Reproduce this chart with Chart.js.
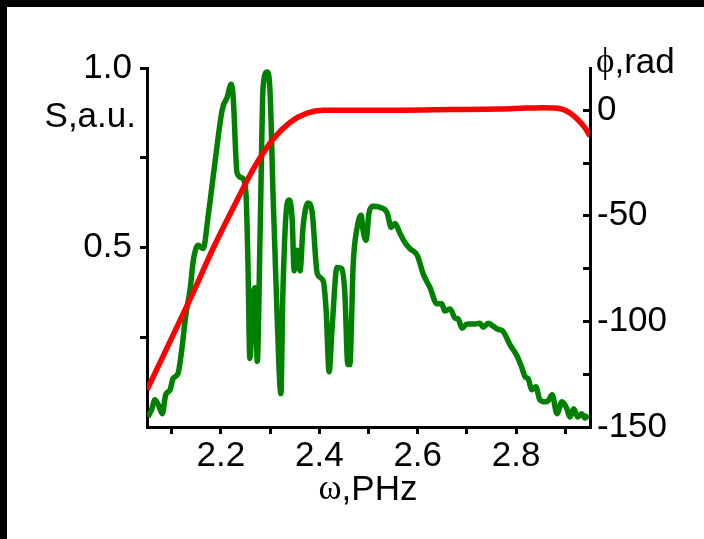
<!DOCTYPE html>
<html>
<head>
<meta charset="utf-8">
<script src="https://cdn.jsdelivr.net/npm/chart.js@4"></script>
<style>
  html, body { margin: 0; padding: 0; background: #fff; }
  #wrap { position: relative; width: 704px; height: 539px; }
  canvas { display: block; }
</style>
</head>
<body>
<div id="wrap"><canvas id="spectrum-chart" width="704" height="539"></canvas></div>
<script>
//! spectrum S (a.u.) against frequency omega (PHz)
const omegaS = [2.052, 2.060, 2.066, 2.073, 2.081, 2.088, 2.097, 2.103, 2.113, 2.121, 2.128, 2.138,
  2.144, 2.154, 2.164, 2.175, 2.188, 2.203, 2.213, 2.221, 2.225, 2.233, 2.243, 2.251, 2.255, 2.259,
  2.266, 2.270, 2.274, 2.280, 2.286, 2.294, 2.300, 2.306, 2.314, 2.322, 2.326, 2.335, 2.339, 2.345,
  2.349, 2.355, 2.361, 2.367, 2.377, 2.385, 2.396, 2.408, 2.414, 2.420, 2.426, 2.436, 2.446, 2.452,
  2.458, 2.462, 2.469, 2.477, 2.485, 2.489, 2.495, 2.501, 2.509, 2.523, 2.538, 2.546, 2.554, 2.564,
  2.574, 2.584, 2.599, 2.611, 2.625, 2.639, 2.649, 2.655, 2.666, 2.676, 2.682, 2.690, 2.700, 2.716,
  2.726, 2.733, 2.743, 2.753, 2.763, 2.773, 2.787, 2.802, 2.812, 2.818, 2.824, 2.832, 2.840, 2.848,
  2.859, 2.865, 2.873, 2.883, 2.893, 2.903, 2.909, 2.917, 2.925, 2.933, 2.940, 2.946]
const intensity = [0.028, 0.051, 0.076, 0.062, 0.037, 0.090, 0.104, 0.135, 0.149, 0.219, 0.303, 0.388,
  0.463, 0.506, 0.497, 0.596, 0.736, 0.885, 0.919, 0.955, 0.921, 0.708, 0.694, 0.652, 0.463, 0.191,
  0.371, 0.388, 0.183, 0.556, 0.949, 0.989, 0.933, 0.652, 0.323, 0.093, 0.371, 0.624, 0.632, 0.576,
  0.435, 0.492, 0.435, 0.556, 0.624, 0.604, 0.427, 0.407, 0.323, 0.154, 0.275, 0.444, 0.441, 0.371,
  0.174, 0.174, 0.455, 0.556, 0.590, 0.548, 0.520, 0.596, 0.615, 0.612, 0.596, 0.556, 0.567, 0.539,
  0.514, 0.497, 0.478, 0.427, 0.388, 0.343, 0.343, 0.323, 0.329, 0.303, 0.301, 0.275, 0.287, 0.287,
  0.289, 0.278, 0.289, 0.281, 0.272, 0.267, 0.230, 0.197, 0.163, 0.140, 0.135, 0.104, 0.112, 0.076,
  0.070, 0.073, 0.090, 0.037, 0.070, 0.051, 0.028, 0.051, 0.028, 0.037, 0.025, 0.034]

//! spectral phase phi (rad)
const omegaPhi = [2.050, 2.138, 2.188, 2.239, 2.259, 2.274, 2.306, 2.341, 2.375, 2.408, 2.479, 2.564,
  2.666, 2.767, 2.820, 2.855, 2.878, 2.895, 2.910, 2.925, 2.940, 2.950]
const phase = [-132.4, -89.2, -63.6, -39.8, -30.8, -24.6, -13.7, -5.7, -1.4, 0, 0, 0,
  0.3, 0.6, 1.0, 1.2, 1.1, 0.4, -1.4, -4.4, -8.4, -12.3]

//! ticks and which of them carry a label
const omegaTicks = [2.1, 2.2, 2.3, 2.4, 2.5, 2.6, 2.7, 2.8, 2.9]
const omegaLabels = [2.2, 2.4, 2.6, 2.8]
const sTicks = [0.25, 0.5, 0.75, 1.0]
const sLabels = [0.5, 1.0]
const phiTicks = [0, -25, -50, -75, -100, -125, -150]
const phiLabels = [0, -50, -100, -150]

const FONT = 'Liberation Sans, Arial, sans-serif'
const SERIF = 'Liberation Serif, DejaVu Serif, serif'

function toPoints(xs, ys){
  return xs.map((x, i) => ({x, y: ys[i]}))
}

function fixedTicks(values){
  return function(scale){
    scale.ticks = values.map(value => ({value}))
  }
}

function labelIf(list, digits){
  return function(value){
    const v = +value.toFixed(3)
    return list.some(l => Math.abs(l - v) < 1e-6) ? v.toFixed(digits) : ''
  }
}

//! black frame round the figure and the axis titles as plain text
const decorations = {
  id: 'decorations',
  afterDraw(chart){
    const ctx = chart.ctx
    ctx.save()
    ctx.fillStyle = '#000'
    ctx.fillRect(0, 0, chart.width, 7)
    ctx.fillRect(0, 0, 7, chart.height)

    ctx.fillStyle = '#000'
    ctx.textBaseline = 'middle'

    // S,a.u.
    ctx.font = `35px ${FONT}`
    ctx.textAlign = 'right'
    ctx.fillText('S,a.u.', 136, 117)

    // phi,rad
    ctx.textAlign = 'left'
    ctx.font = `35px ${SERIF}`
    ctx.fillText('ϕ', 596, 63)
    let w = ctx.measureText('ϕ').width
    ctx.font = `35px ${FONT}`
    ctx.fillText(',rad', 596 + w, 63)

    // omega,PHz centred under the x axis
    ctx.font = `35px ${SERIF}`
    const wOmega = ctx.measureText('ω').width
    ctx.font = `35px ${FONT}`
    const wRest = ctx.measureText(',PHz').width
    const x0 = 368 - (wOmega + wRest) / 2
    ctx.font = `35px ${SERIF}`
    ctx.fillText('ω', x0, 490)
    ctx.font = `35px ${FONT}`
    ctx.fillText(',PHz', x0 + wOmega, 490)
    ctx.restore()
  }
}

const axisGrid = {drawOnChartArea: false, drawTicks: true, tickLength: 7, tickWidth: 3, tickColor: '#000'}
const axisBorder = {display: true, color: '#000', width: 3}
const tickFont = {family: FONT, size: 35}

const ctxChart = document.querySelector('#spectrum-chart').getContext('2d')
const myChart = new Chart(ctxChart, {
  type: 'line',
  data: {
    datasets: [
      {
        label: 'phi',
        data: toPoints(omegaPhi, phase),
        yAxisID: 'y2',
        borderColor: '#ff0000',
        borderWidth: 5.5,
        pointRadius: 0,
        cubicInterpolationMode: 'monotone'
      },
      {
        label: 'S',
        data: toPoints(omegaS, intensity),
        yAxisID: 'y',
        borderColor: '#008000',
        borderWidth: 5.5,
        pointRadius: 0,
        cubicInterpolationMode: 'monotone'
      }
    ]
  },
  options: {
    responsive: false,
    animation: false,
    devicePixelRatio: 1,
    layout: {padding: {top: 68, left: 0, right: 0, bottom: 0}},
    plugins: {legend: {display: false}, tooltip: {enabled: false}},
    scales: {
      x: {
        type: 'linear',
        min: 2.05,
        max: 2.95,
        afterBuildTicks: fixedTicks(omegaTicks),
        afterFit(scale){ scale.height = 112 },
        grid: axisGrid,
        border: axisBorder,
        ticks: {
          autoSkip: false, maxRotation: 0, color: '#000', font: tickFont, padding: 1,
          callback: labelIf(omegaLabels, 1)
        }
      },
      y: {
        position: 'left',
        min: 0,
        max: 1,
        afterBuildTicks: fixedTicks(sTicks),
        afterFit(scale){ scale.width = 147 },
        grid: axisGrid,
        border: axisBorder,
        ticks: {color: '#000', font: tickFont, padding: 8, callback: labelIf(sLabels, 1)}
      },
      y2: {
        position: 'right',
        min: -150,
        max: 20,
        afterBuildTicks: fixedTicks(phiTicks),
        afterFit(scale){ scale.width = 114 },
        grid: {...axisGrid, tickLength: -7},
        border: axisBorder,
        ticks: {color: '#000', font: tickFont, padding: 14, callback: labelIf(phiLabels, 0)}
      }
    }
  },
  plugins: [decorations]
})
</script>
</body>
</html>
